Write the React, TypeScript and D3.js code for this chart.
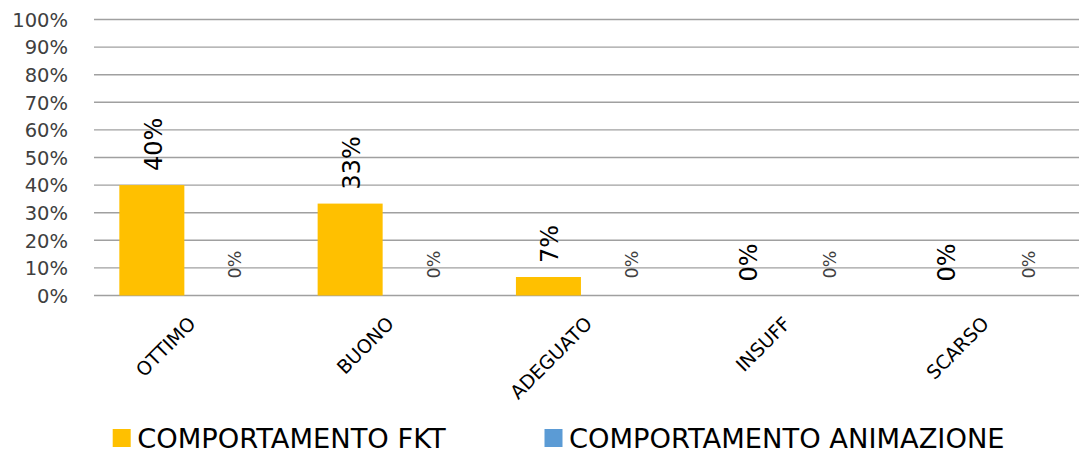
import React from "react";
import * as d3 from "d3";

const categories = ["OTTIMO", "BUONO", "ADEGUATO", "INSUFF", "SCARSO"];
const seriesNames = ["COMPORTAMENTO FKT", "COMPORTAMENTO ANIMAZIONE"];
const fktValues = [0.4, 0.333, 0.067, 0, 0];
const animValues = [0, 0, 0, 0, 0];
const yTicks = [0, 0.1, 0.2, 0.3, 0.4, 0.5, 0.6, 0.7, 0.8, 0.9, 1.0];
const colors = ["#FFC000", "#5B9BD5"];

const W = 1079;
const H = 454;
const FONT = "'DejaVu Sans', sans-serif";

export default function App() {
  const y = d3.scaleLinear().domain([0, 1]).range([295.5, 19.5]);
  const x0 = d3.scaleBand<string>().domain(categories).range([85.2, 1076.7]).paddingInner(0).paddingOuter(0);
  const x1 = d3
    .scaleBand<string>()
    .domain(seriesNames)
    .range([0, x0.bandwidth()])
    .paddingInner(0)
    .paddingOuter(0.525);
  const seriesValues = [fktValues, animValues];
  const fmt = d3.format(".0%");

  return (
    <svg width={W} height={H} style={{ position: "absolute", left: 0, top: 0, background: "#fff" }}>
      <rect x={0} y={0} width={W} height={H} fill="#fff" />
      {/* gridlines */}
      {yTicks.map((t) => (
        <line key={t} x1={94} x2={W} y1={y(t)} y2={y(t)} stroke="#a0a0a0" strokeWidth={1.4} />
      ))}
      {/* y tick labels */}
      {yTicks.map((t) => (
        <text
          key={"l" + t}
          x={68}
          y={y(t)}
          dy="0.37em"
          textAnchor="end"
          fontFamily={FONT}
          fontSize={19.5}
          fill="#404040"
        >
          {fmt(t)}
        </text>
      ))}
      {/* bars */}
      {categories.map((c, i) =>
        seriesNames.map((s, si) => {
          const v = seriesValues[si][i];
          const bx = (x0(c) as number) + (x1(s) as number);
          const bw = x1.bandwidth();
          return v > 0 ? (
            <rect key={c + s} x={bx} y={y(v)} width={bw} height={y(0) - y(v)} fill={colors[si]} />
          ) : null;
        })
      )}
      {/* value labels */}
      {categories.map((c, i) =>
        seriesNames.map((s, si) => {
          const v = seriesValues[si][i];
          const cx = (x0(c) as number) + (x1(s) as number) + x1.bandwidth() / 2;
          const big = si === 0;
          const tx = big ? cx + 10 : cx + 24.5;
          const ty = y(v) - (big ? 14 : 17);
          return (
            <text
              key={"v" + c + s}
              transform={`translate(${tx},${ty}) rotate(-90)`}
              textAnchor="start"
              fontFamily={FONT}
              fontSize={big ? 24 : 17.5}
              fill={big ? "#000" : "#404040"}
            >
              {fmt(v)}
            </text>
          );
        })
      )}
      {/* category labels */}
      {categories.map((c) => {
        const cx = (x0(c) as number) + x0.bandwidth() / 2;
        return (
          <text
            key={"c" + c}
            transform={`translate(${cx + 12.5},${325}) rotate(-45)`}
            textAnchor="end"
            fontFamily={FONT}
            fontSize={19}
            fill="#000"
          >
            {c}
          </text>
        );
      })}
      {/* legend */}
      {seriesNames.map((s, si) => {
        const lx = si === 0 ? 112.7 : 544.5;
        return (
          <g key={"lg" + s}>
            <rect x={lx} y={429} width={18} height={18} fill={colors[si]} />
            <text x={lx + 24.5} y={448} fontFamily={FONT} fontSize={27.3} fill="#000">
              {s}
            </text>
          </g>
        );
      })}
    </svg>
  );
}
